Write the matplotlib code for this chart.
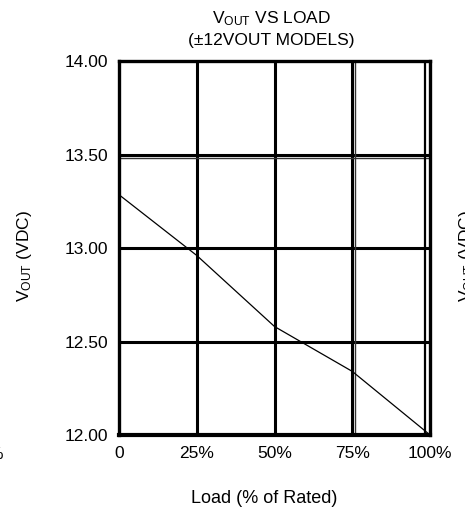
import matplotlib
matplotlib.use("Agg")
import matplotlib.pyplot as plt

plt.rcParams['font.family'] = ['Liberation Sans', 'DejaVu Sans']
plt.rcParams['mathtext.fontset'] = 'custom'
plt.rcParams['mathtext.rm'] = 'Liberation Sans'

# data
load_pct = [0, 25, 50, 75, 100]
vout = [13.285, 12.96, 12.58, 12.34, 12.00]

x_ticks = [0, 25, 50, 75, 100]
x_labels = ['0', '25%', '50%', '75%', '100%']
y_ticks = [12.0, 12.5, 13.0, 13.5, 14.0]
y_labels = ['12.00', '12.50', '13.00', '13.50', '14.00']

fig = plt.figure(figsize=(4.65, 5.13), dpi=100)
ax = fig.add_axes([0.256, 0.152, 0.669, 0.729])

# heavy grid like the scanned datasheet
for xv in x_ticks[1:-1]:
    ax.axvline(xv, color='black', lw=2.2, zorder=1)
for yv in y_ticks[1:-1]:
    ax.axhline(yv, color='black', lw=2.2, zorder=1)
# doubled scan lines
ax.axhline(13.484, color='#333333', lw=1.0, zorder=1)
ax.axvline(75.9, color='#333333', lw=1.0, zorder=1)
ax.axvline(98.4, color='black', lw=1.6, zorder=1)

ax.plot(load_pct, vout, color='black', lw=0.9, zorder=3)

ax.set_xlim(0, 100)
ax.set_ylim(12.0, 14.0)
ax.set_xticks(x_ticks)
ax.set_xticklabels(x_labels)
ax.set_yticks(y_ticks)
ax.set_yticklabels(y_labels)
ax.tick_params(length=0, labelsize=12.5)
ax.tick_params(axis='y', pad=8)
ax.tick_params(axis='x', pad=8)
for s in ax.spines.values():
    s.set_linewidth(2.4)
ax.spines['bottom'].set_linewidth(3.0)

fig.text(0.583, 0.963, r'$\mathregular{V_{OUT}}$ VS LOAD', ha='center', va='center', fontsize=12.5)
fig.text(0.583, 0.922, '(±12VOUT MODELS)', ha='center', va='center', fontsize=12.5)
fig.text(0.568, 0.029, 'Load (% of Rated)', ha='center', va='center', fontsize=13)
fig.text(0.053, 0.501, r'$\mathregular{V_{OUT}}$ (VDC)', rotation=90, ha='center', va='center', fontsize=12.5)

# cut-off labels from neighbouring charts
fig.text(0.009, 0.114, '100%', ha='right', va='center', fontsize=12.5)
fig.text(1.004, 0.50, r'$\mathregular{V_{OUT}}$ (VDC)', rotation=90, ha='center', va='center', fontsize=12.5)

fig.savefig('out.png', dpi=100)
